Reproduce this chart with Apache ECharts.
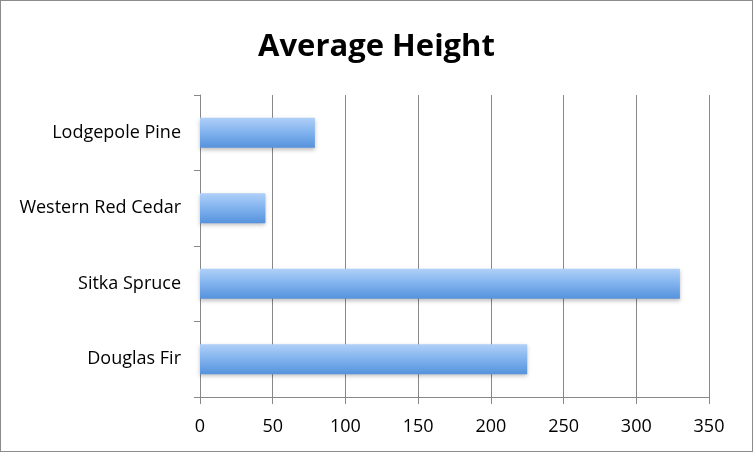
<!DOCTYPE html>
<html>
<head>
    <meta charset="utf-8">
    <title>Average Height</title>
    <script src="https://cdn.jsdelivr.net/npm/echarts@6/dist/echarts.min.js"></script>
    <style>
        html, body { margin: 0; padding: 0; background: #fff; }
        #chart { width: 751px; height: 450px; border: 1px solid #8c8c8c; }
    </style>
</head>
<body>
<div id="chart"></div>
<script type="text/javascript">
    // 数据
    var categories = ['Douglas Fir', 'Sitka Spruce', 'Western Red Cedar', 'Lodgepole Pine'];
    var heights = [225, 330, 45, 79];
    var xTicks = [0, 50, 100, 150, 200, 250, 300, 350];

    var myChart = echarts.init(document.getElementById('chart'));

    myChart.setOption({
        animation: false,
        title: {
            text: 'Average Height',
            left: 'center',
            top: 26,
            textStyle: {
                fontFamily: 'Open Sans',
                fontWeight: 'bold',
                fontSize: 31,
                color: '#000'
            }
        },
        grid: {
            left: 199,
            right: 43,
            top: 94,
            bottom: 54
        },
        xAxis: {
            type: 'value',
            min: xTicks[0],
            max: xTicks[xTicks.length - 1],
            interval: 50,
            axisLine: { show: true, lineStyle: { color: '#888', width: 1 } },
            axisTick: { show: true, length: 7, lineStyle: { color: '#888' } },
            axisLabel: {
                fontFamily: 'Open Sans',
                fontSize: 18,
                color: '#000',
                margin: 21
            },
            splitLine: { show: true, lineStyle: { color: '#888', width: 1 } }
        },
        yAxis: {
            type: 'category',
            data: categories,
            axisLine: { show: true, lineStyle: { color: '#888', width: 1 } },
            axisTick: { show: true, length: 6, lineStyle: { color: '#888' } },
            axisLabel: {
                fontFamily: 'Open Sans',
                fontSize: 18,
                color: '#000',
                margin: 19,
                padding: [4, 0, 0, 0]
            }
        },
        series: [{
            name: 'Average Height',
            type: 'bar',
            data: heights,
            barCategoryGap: '60%',
            itemStyle: {
                color: new echarts.graphic.LinearGradient(0, 0, 0, 1, [
                    { offset: 0, color: '#b0d0f8' },
                    { offset: 0.5, color: '#80b2ee' },
                    { offset: 1, color: '#5592dc' }
                ]),
                shadowColor: 'rgba(0,0,0,0.25)',
                shadowBlur: 4,
                shadowOffsetY: 2
            }
        }]
    });
</script>
</body>
</html>
